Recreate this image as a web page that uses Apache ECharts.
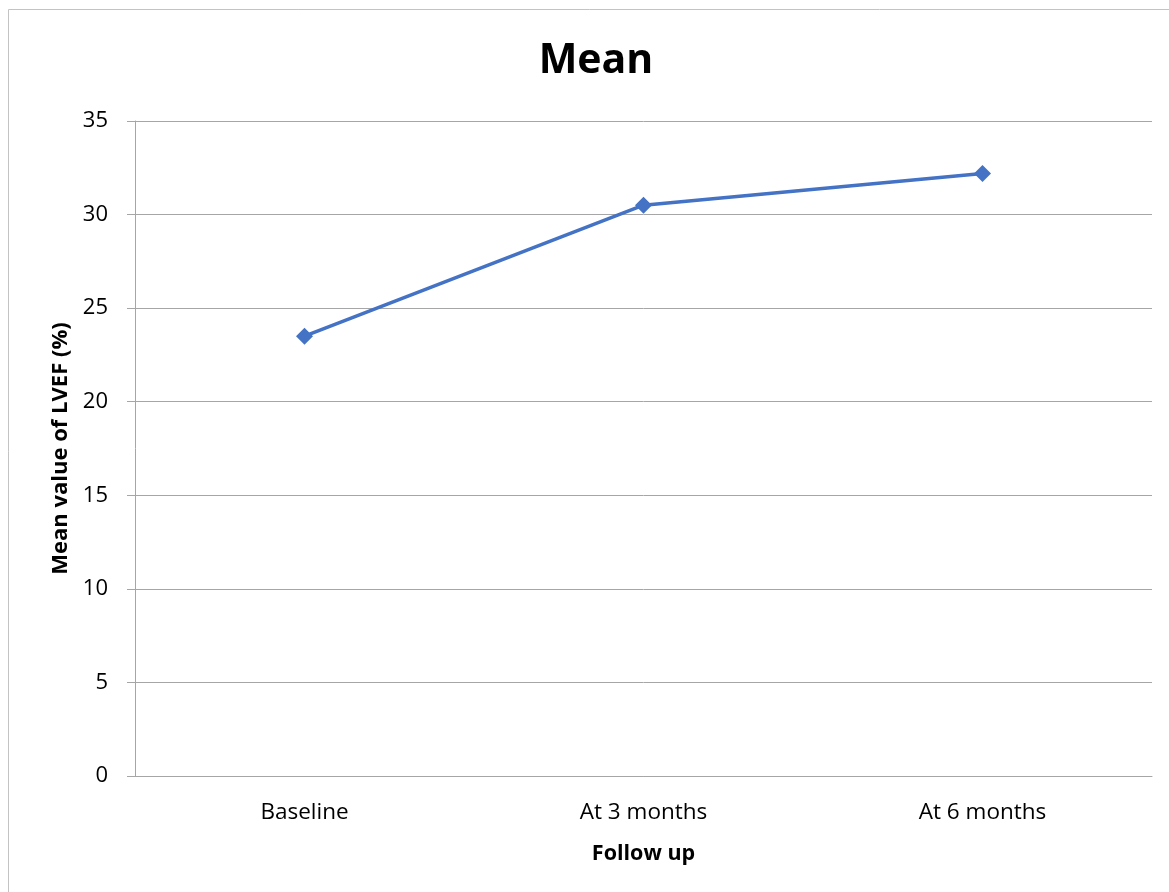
<!DOCTYPE html>
<html>
<head>
<meta charset="utf-8">
<script src="https://cdn.jsdelivr.net/npm/echarts@6/dist/echarts.min.js"></script>
<style>
  html, body { margin: 0; padding: 0; background: #ffffff; }
  #chart { width: 1169px; height: 892px; }
</style>
</head>
<body>
<div id="chart"></div>
<script>
// Follow-up time points and mean LVEF (%) at each
const categories = ['Baseline', 'At 3 months', 'At 6 months'];
const meanLVEF = [23.5, 30.5, 32.2];
const yTicks = { min: 0, max: 35, interval: 5 };

const FONT = '"Open Sans", Lato, sans-serif';
const GRID_GRAY = '#a6a6a6';

const chart = echarts.init(document.getElementById('chart'), null, { renderer: 'canvas' });

chart.setOption({
  backgroundColor: '#ffffff',
  animation: false,
  graphic: [{
    type: 'rect',
    silent: true,
    shape: { x: 8.5, y: 9.5, width: 1200, height: 1000 },
    style: { fill: 'none', stroke: '#c3c3c3', lineWidth: 1 }
  }],
  title: {
    text: 'Mean',
    left: 591,
    top: 36,
    textAlign: 'center',
    textStyle: { fontFamily: FONT, fontSize: 41, fontWeight: 'bold', color: '#000000' }
  },
  grid: { left: 135, right: 17, top: 121, bottom: 116, containLabel: false },
  xAxis: {
    type: 'category',
    data: categories,
    boundaryGap: true,
    name: 'Follow up',
    nameLocation: 'middle',
    nameGap: 67,
    nameTextStyle: { fontFamily: FONT, fontSize: 21.5, fontWeight: 'bold', color: '#000000' },
    axisLine: { show: true, lineStyle: { color: GRID_GRAY, width: 1 } },
    axisTick: { show: false },
    axisLabel: { fontFamily: FONT, fontSize: 22.5, color: '#000000', margin: 25 },
    splitLine: { show: false }
  },
  yAxis: {
    type: 'value',
    min: yTicks.min,
    max: yTicks.max,
    interval: yTicks.interval,
    name: 'Mean value of LVEF (%)',
    nameLocation: 'middle',
    nameGap: 62,
    nameRotate: 90,
    nameTextStyle: { fontFamily: FONT, fontSize: 22, fontWeight: 'bold', color: '#000000' },
    axisLine: { show: true, lineStyle: { color: GRID_GRAY, width: 1 } },
    axisTick: { show: true, inside: false, length: 8, lineStyle: { color: GRID_GRAY, width: 1 } },
    axisLabel: { fontFamily: FONT, fontSize: 22, color: '#000000', margin: 27 },
    splitLine: { show: true, lineStyle: { color: GRID_GRAY, width: 1 } }
  },
  series: [{
    type: 'line',
    name: 'Mean',
    data: meanLVEF,
    symbol: 'diamond',
    symbolSize: 17,
    showAllSymbol: true,
    lineStyle: { color: '#4472c4', width: 3.5 },
    itemStyle: { color: '#4472c4' },
    z: 5
  }]
});
</script>
</body>
</html>
